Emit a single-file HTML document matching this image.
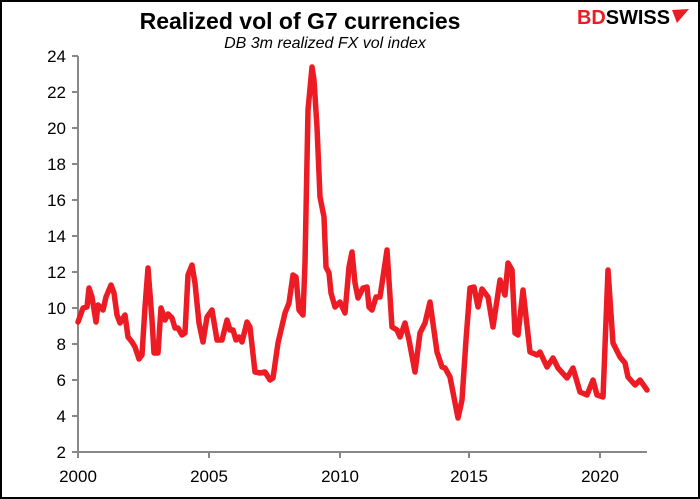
<!DOCTYPE html>
<html><head><meta charset="utf-8"><style>
body{margin:0;background:#fff}
svg{display:block}
text{font-family:"Liberation Sans",Arial,sans-serif}
</style></head><body>
<svg width="700" height="499" viewBox="0 0 700 499">
<rect x="1" y="1" width="698" height="497" fill="#fff" stroke="#000" stroke-width="2"/>
<text x="300" y="29" font-size="23" font-weight="bold" text-anchor="middle">Realized vol of G7 currencies</text>
<text x="325" y="48" font-size="16" font-style="italic" text-anchor="middle">DB 3m realized FX vol index</text>
<text x="577" y="24" font-size="20" font-weight="bold" fill="#ed1c24" textLength="93" lengthAdjust="spacingAndGlyphs">BD<tspan fill="#000">SWISS</tspan></text>
<polygon points="672,10 689,9 677,23" fill="#ed1c24"/>
<g stroke="#888" stroke-width="2" fill="none">
<line x1="78" y1="56" x2="78" y2="453"/>
<line x1="78" y1="452" x2="647" y2="452"/>
<line x1="72" y1="56" x2="78" y2="56"/><line x1="72" y1="92" x2="78" y2="92"/><line x1="72" y1="128" x2="78" y2="128"/><line x1="72" y1="164" x2="78" y2="164"/><line x1="72" y1="200" x2="78" y2="200"/><line x1="72" y1="236" x2="78" y2="236"/><line x1="72" y1="272" x2="78" y2="272"/><line x1="72" y1="308" x2="78" y2="308"/><line x1="72" y1="344" x2="78" y2="344"/><line x1="72" y1="380" x2="78" y2="380"/><line x1="72" y1="416" x2="78" y2="416"/><line x1="72" y1="452" x2="78" y2="452"/>
<line x1="78" y1="452" x2="78" y2="458"/><line x1="209" y1="452" x2="209" y2="458"/><line x1="340" y1="452" x2="340" y2="458"/><line x1="469" y1="452" x2="469" y2="458"/><line x1="600" y1="452" x2="600" y2="458"/>
</g>
<g font-size="17" text-anchor="end">
<text x="66" y="62">24</text><text x="66" y="98">22</text><text x="66" y="134">20</text><text x="66" y="170">18</text><text x="66" y="206">16</text><text x="66" y="242">14</text><text x="66" y="278">12</text><text x="66" y="314">10</text><text x="66" y="350">8</text><text x="66" y="386">6</text><text x="66" y="422">4</text><text x="66" y="458">2</text>
</g>
<g font-size="17" text-anchor="middle">
<text x="78" y="482">2000</text><text x="209" y="482">2005</text><text x="340" y="482">2010</text><text x="469" y="482">2015</text><text x="600" y="482">2020</text>
</g>
<polyline fill="none" stroke="#ed1c24" stroke-width="5.5" stroke-linejoin="round" stroke-linecap="round" points="
78,322 83,308 87,307 89,288 92,297 96,322 98,305 103,310 106,297 111,285 114,293 117,315 120,323 125,315 128,337 132,342 135,347 139,359 142,355 145,307 148,268 152,320 154,353 158,353 161,308 165,320 168,314 172,318 175,328 178,328 182,335 185,333 188,275 192,265 195,283 199,323 203,342 207,317 212,310 217,340 222,340 227,320 230,330 233,330 236,340 239,337 242,342 247,322 250,327 255,372 260,373 265,372 270,380 273,378 278,343 285,313 289,303 293,275 296,277 299,310 303,315 305,263 308,110 312,67 314,80 317,127 320,197 324,217 326,267 329,273 331,293 335,307 340,302 345,313 349,267 352,252 355,283 358,298 363,288 367,287 369,307 372,310 376,297 380,297 383,277 387,250 392,327 397,330 400,337 405,323 409,340 415,372 420,333 425,323 430,302 437,352 442,367 445,368 450,377 458,418 462,400 466,340 470,288 474,287 478,307 482,289 488,297 493,327 500,280 505,295 508,263 512,270 515,333 518,335 523,290 530,352 537,355 540,352 547,367 553,358 558,368 567,378 573,368 580,392 587,395 593,380 597,395 603,397 608,270 613,343 620,357 625,363 628,377 635,385 640,380 647,390"/>
</svg>
</body></html>
